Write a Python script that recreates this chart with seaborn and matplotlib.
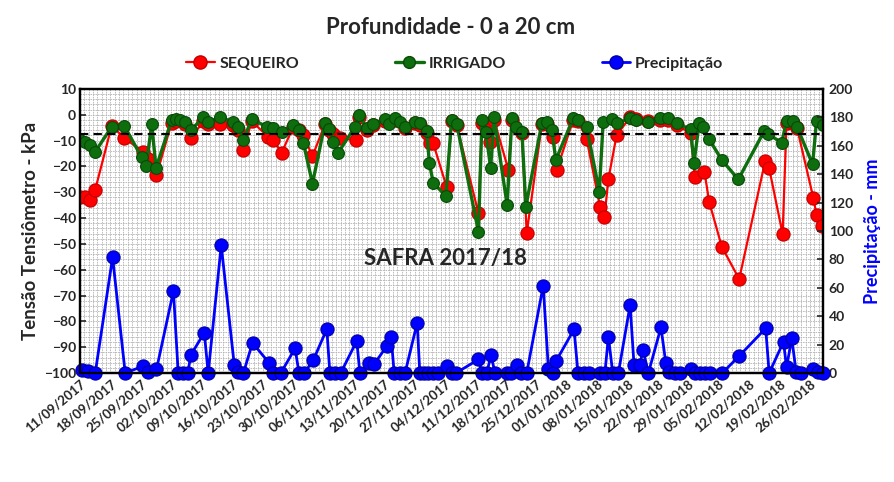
import pandas as pd
import seaborn as sns
import matplotlib.pyplot as plt
import matplotlib.dates as mdates
from matplotlib.ticker import MultipleLocator
from matplotlib.lines import Line2D

# dias contados a partir de 11/09/2017
inicio = pd.Timestamp("2017-09-11")

dias_irrigado = [0, 1.2, 2.3, 3.5, 7.3, 10.2, 14.2, 15.2, 16.5, 17.5, 21.1, 22, 23, 24.2,
                 25.5, 28.4, 29.5, 32.2, 35.3, 36.4, 37.6, 39.5, 43, 44.5, 46.4, 49.1,
                 50.4, 51.4, 53.5, 56.4, 57.4, 58.3, 59.4, 63.3, 64.3, 66, 67.4, 70.2,
                 71, 72.5, 73.6, 74.8, 77.1, 78.3, 79.8, 80.4, 81.3, 84.2, 85.5, 86.7,
                 91.7, 92.5, 93.4, 94.5, 95.3, 98.3, 99.4, 100.4, 101.7, 102.6, 106.3,
                 107.5, 108.6, 109.5, 113.5, 114.7, 116.6, 119.5, 120.4, 122.4, 123.5,
                 126.6, 128, 130.8, 133.5, 135.4, 137.3, 140.5, 141.3, 142.5, 143.4,
                 144.8, 147.7, 151.5, 157.5, 158.4, 161.5, 162.6, 164, 165, 168.6,
                 169.5, 170.9]
irrigado = [-9.8, -10.4, -11.7, -14.3, -4.6, -4.3, -16.5, -20, -3.7, -20.5, -2, -1.5, -2,
            -2.7, -5.9, -1, -2.7, -1, -2.7, -4.6, -9.8, -1.7, -4.6, -5.3, -6.5, -4, -5.9,
            -10.8, -26.6, -3.1, -5.6, -10.4, -14.7, -4.6, -0.1, -5.2, -3.6, -1.8, -3.6,
            -1.4, -2.7, -4.6, -2.7, -3.3, -6.2, -18.8, -26.3, -31.5, -2, -3.6, -45.3, -2,
            -6.5, -20.7, -1, -35, -1.4, -4.6, -6.5, -35.6, -3.1, -2.7, -5.9, -17.5, -1.4,
            -2, -4.6, -29.8, -2.7, -1.7, -3.3, -1.4, -2, -2.7, -1.4, -1.2, -3.3, -5.6,
            -18.6, -3.1, -4.6, -9.5, -17.5, -25, -6.2, -7.5, -10.8, -2.3, -2.5, -4.6,
            -19.2, -2.3, -4]

dias_sequeiro = [0, 1.2, 2.3, 3.5, 7.3, 10.2, 14.6, 15.6, 17.6, 21.1, 22, 24.2, 25.5, 28.4,
                 29.5, 32.2, 35.3, 36.4, 37.6, 39.5, 43.3, 44.5, 46.4, 49.1, 50.4, 51.4,
                 53.5, 56.4, 57.4, 58.3, 59.8, 63.5, 64.3, 66, 67.4, 70.2, 72.5, 74.8,
                 77.1, 78.3, 79.8, 80.6, 81.3, 84.4, 85.5, 86.7, 91.7, 92.5, 93.4, 94.4,
                 95.3, 98.6, 99.4, 101.7, 102.8, 106.3, 107.5, 108.9, 109.7, 113.5, 114.7,
                 116.6, 119.7, 120.7, 121.6, 123.5, 126.6, 128, 130.8, 133.5, 135.4, 137.3,
                 140.5, 141.5, 143.7, 144.8, 147.7, 151.7, 157.7, 158.6, 161.7, 162.6, 164,
                 165, 168.8, 169.5, 170.8]
sequeiro = [-32, -32, -33, -29, -4.2, -9.1, -14.3, -17, -23.3, -3, -2.5, -3.5, -9.1, -2.5,
            -3.5, -3.5, -4, -6, -13.6, -2.5, -8.5, -9.8, -14.7, -4.6, -6, -8, -16, -3.5,
            -6, -7.5, -9.1, -9.8, -1, -6, -4, -2.5, -2, -5, -3, -4, -7, -11, -11.1, -28.1,
            -2.5, -4, -38.2, -3, -5, -10.4, -2, -21.4, -2, -7, -45.9, -3.5, -3.5, -8.5,
            -21.4, -2, -2.5, -9.5, -35.6, -39.5, -24.9, -7.8, -1, -1.5, -2.5, -2, -2, -4,
            -7, -24, -22, -33.7, -51.1, -63.6, -17.8, -20.7, -46.2, -3, -3, -5, -32.4,
            -38.8, -43.1]

dias_precip = [0.4, 1.9, 3.5, 7.5, 10.4, 14.6, 15.7, 17.6, 21.5, 22.6, 23.8, 24.8, 25.5,
               28.6, 29.5, 32.5, 35.5, 36.4, 37.6, 39.7, 43.6, 44.5, 46.2, 49.5, 50.4, 51.6,
               53.7, 56.8, 57.5, 58.7, 60, 63.7, 64.4, 66.4, 67.7, 70.6, 71.6, 72.3, 73.6,
               74.8, 77.6, 78.2, 79.2, 80.2, 81.2, 82.5, 84.4, 85.6, 86.5, 91.7, 92.5, 93.6,
               94.6, 95.5, 98.2, 99.2, 100.6, 101.6, 102.8, 106.6, 107.8, 108.8, 109.6,
               113.7, 114.6, 116.1, 117.2, 119.7, 120.8, 121.6, 122.6, 123.9, 126.6, 127.5,
               128.8, 129.6, 130.8, 133.7, 134.8, 135.6, 136.9, 138, 140.5, 141.5, 142.6,
               143.8, 144.9, 147.8, 151.7, 157.8, 158.6, 161.9, 162.6, 163.8, 164.8, 166,
               168.6, 169.8, 170.9]
precip = [2, 1.5, 0, 81.5, 0, 5, 1, 2.6, 57.7, 0, 0, 0, 12.7, 28.4, 0, 90, 5.6, 0.5, 0,
          21.3, 6.8, 0, 0, 17.4, 0, 0, 9.2, 31, 0, 0, 0, 22.7, 0, 7, 6.3, 19, 25.6, 0, 0,
          0, 35.4, 0, 0, 0, 0, 0, 5, 0, 0, 9.6, 0, 0, 12.7, 0, 0, 0, 5.6, 0, 0, 61.5, 2.6,
          0, 8.7, 30.8, 0, 0, 0, 0, 0, 25.6, 0, 0, 48, 5.6, 5.6, 16.2, 0, 32.2, 7.3, 1, 0,
          0, 3, 0, 0, 0, 0, 0, 12, 31.5, 0, 22, 4, 24.4, 1, 0, 2.6, 1, 0]

limite = -7.6


def para_datas(dias):
    return inicio + pd.to_timedelta(dias, unit="D")


df_irr = pd.DataFrame({"data": para_datas(dias_irrigado), "valor": irrigado})
df_seq = pd.DataFrame({"data": para_datas(dias_sequeiro), "valor": sequeiro})
df_pre = pd.DataFrame({"data": para_datas(dias_precip), "valor": precip})

sns.set_style("white")
plt.rcParams["font.family"] = ["Lato", "DejaVu Sans"]
plt.rcParams["font.weight"] = "bold"

fig = plt.figure(figsize=(8.95, 4.82), dpi=100)
ax = fig.add_axes([0.0894, 0.226, 0.8302, 0.5894])
ax2 = ax.twinx()

vermelho = "#ff0000"
verde = "#0e6e0e"
azul = "#0000ff"

sns.lineplot(data=df_seq, x="data", y="valor", ax=ax, color=vermelho, lw=1.6,
             marker="o", markersize=9.5, markeredgecolor="#c00000", markeredgewidth=0.8,
             zorder=3)
sns.lineplot(data=df_irr, x="data", y="valor", ax=ax, color=verde, lw=2.4,
             marker="o", markersize=8.5, markeredgecolor="#064a06", markeredgewidth=0.8,
             zorder=4)
sns.lineplot(data=df_pre, x="data", y="valor", ax=ax2, color=azul, lw=2,
             marker="o", markersize=9.5, markeredgecolor="#0000a0", markeredgewidth=0.8,
             clip_on=False)

ax.axhline(limite, color="black", lw=1.5, ls=(0, (4, 2.5)), zorder=5)

ax.set_xlim(inicio, pd.Timestamp("2018-03-01"))
ax.set_ylim(-100, 10)
ax2.set_ylim(0, 200)

ax.yaxis.set_major_locator(MultipleLocator(10))
ax.yaxis.set_minor_locator(MultipleLocator(2))
ax2.yaxis.set_major_locator(MultipleLocator(20))
semanas = pd.date_range(inicio, "2018-02-26", freq="7D")
ax.set_xticks(semanas)
ax.set_xticklabels([d.strftime("%d/%m/%Y") for d in semanas], rotation=40,
                   ha="right", rotation_mode="anchor", fontsize=9.5, fontweight="bold")
ax.xaxis.set_minor_locator(mdates.DayLocator())

ax.grid(True, which="both", color="#b4b4b4", lw=0.6, ls=(0, (2, 1)))
ax.set_axisbelow(True)

ax.tick_params(axis="y", labelsize=10, direction="in", length=4, width=1.2, pad=3)
ax.tick_params(axis="x", which="major", direction="in", length=4, width=1.2, pad=3)
ax.tick_params(which="minor", length=0)
ax2.tick_params(axis="y", labelsize=10, direction="in", length=4, width=1.2, pad=4)
for lbl in ax.get_yticklabels() + ax2.get_yticklabels():
    lbl.set_fontweight("bold")

for sp in list(ax.spines.values()) + list(ax2.spines.values()):
    sp.set_linewidth(1.6)
    sp.set_color("black")

ax.set_xlabel("")
ax.set_ylabel("Tensão Tensiômetro - kPa", fontsize=13.5, fontweight="bold", labelpad=3)
ax2.set_ylabel("Precipitação - mm", fontsize=13, fontweight="bold", color=azul,
               labelpad=8)

ax.text(pd.Timestamp("2017-12-04"), -55.5, "SAFRA 2017/18", fontsize=16,
        fontweight="bold", ha="center", va="center")

fig.suptitle("Profundidade - 0 a 20 cm", x=0.503, y=0.965, fontsize=16,
             fontweight="bold")

alcas = [
    Line2D([], [], color=vermelho, lw=1.6, marker="o", markersize=9.5,
           markeredgecolor="#c00000"),
    Line2D([], [], color=verde, lw=2.4, marker="o", markersize=8.5,
           markeredgecolor="#064a06"),
    Line2D([], [], color=azul, lw=2, marker="o", markersize=9.5,
           markeredgecolor="#0000a0"),
]
fig.legend(alcas, ["SEQUEIRO", "IRRIGADO", "Precipitação"], loc="center",
           bbox_to_anchor=(0.508, 0.868), ncol=3, frameon=False, handlelength=1.8,
           columnspacing=6.0, handletextpad=0.3,
           prop={"weight": "bold", "size": 11.5})

fig.savefig("out.png", dpi=100)
